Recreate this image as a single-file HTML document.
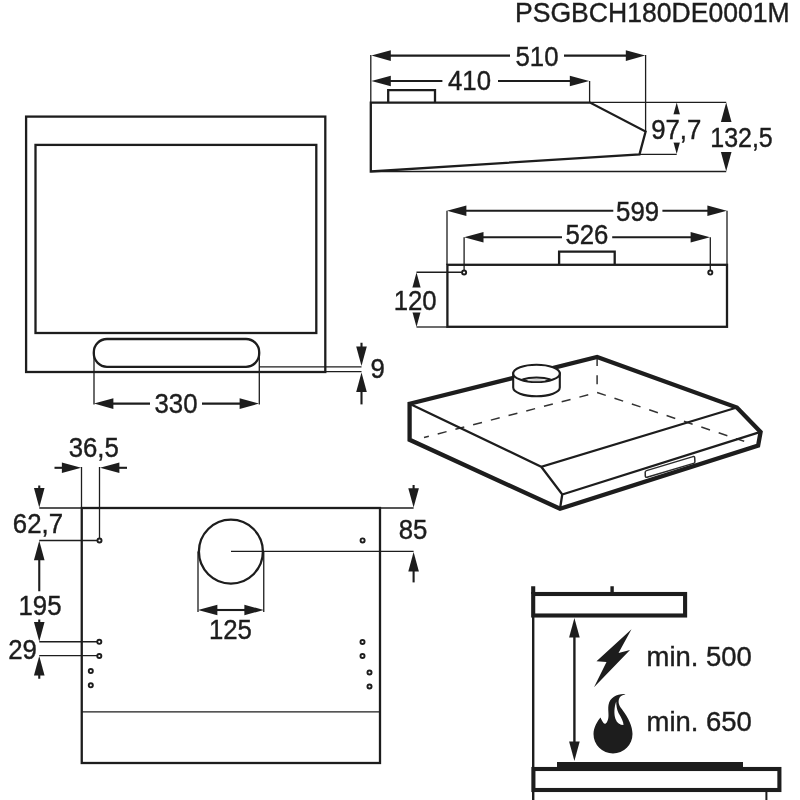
<!DOCTYPE html>
<html><head><meta charset="utf-8"><title>PSGBCH180DE0001M</title>
<style>
html,body{margin:0;padding:0;background:#fff}
svg{display:block;will-change:transform;filter:grayscale(1)}
svg *{fill:none;stroke:#1d1d1b}
svg text{fill:#1d1d1b;stroke:#1d1d1b;stroke-width:0.4px;font-family:"Liberation Sans",Arial,Helvetica,sans-serif;font-size:26.3px}
svg .f{fill:#1d1d1b;stroke:none}
svg .w{fill:#fff;stroke:none}
svg .wf{fill:#fff}
</style></head><body>
<svg width="800" height="800" viewBox="0 0 800 800">
<rect class="w" x="0" y="0" width="800" height="800"/>
<text transform="translate(515,21.70) scale(1.0104,1.02)" text-anchor="start">PSGBCH180DE0001M</text>
<rect x="26.1" y="116.6" width="299.2" height="255.4" stroke-width="2.3"/>
<rect x="35.5" y="144.9" width="280.8" height="188.1" stroke-width="2.3"/>
<rect x="93.8" y="339.0" width="165.39999999999998" height="27.80000000000001" rx="13.2" ry="13.2" stroke-width="2.3"/>
<line x1="94" y1="352" x2="94" y2="404.5" stroke-width="1.3" />
<line x1="259.3" y1="352" x2="259.3" y2="404.5" stroke-width="1.3" />
<polygon class="f" points="94.00,403.60 113.40,398.30 113.40,408.90"/>
<line x1="112" y1="403.6" x2="150" y2="403.6" stroke-width="2.1" />
<polygon class="f" points="259.00,403.60 239.60,398.30 239.60,408.90"/>
<line x1="202" y1="403.6" x2="241" y2="403.6" stroke-width="2.1" />
<text transform="translate(176,413.20) scale(0.9800,1.085)" text-anchor="middle">330</text>
<line x1="259" y1="366.9" x2="361.5" y2="366.9" stroke-width="1.3" />
<line x1="325" y1="371.7" x2="361.5" y2="371.7" stroke-width="1.3" />
<line x1="361.5" y1="342.75" x2="361.5" y2="347" stroke-width="2.1" />
<polygon class="f" points="361.50,366.00 356.20,346.60 366.80,346.60"/>
<polygon class="f" points="361.50,372.50 356.20,391.90 366.80,391.90"/>
<line x1="361.5" y1="391" x2="361.5" y2="404.4" stroke-width="2.1" />
<text transform="translate(370.5,377.70) scale(0.9800,1.085)" text-anchor="start">9</text>
<polygon points="370.8,102.6 590,102.6 645.6,131.6 639.5,154.3 370.8,171.5" stroke-width="2.3"/>
<polyline points="388.2,102.6 388.2,90.2 435,90.2 435,102.6" stroke-width="2.3"/>
<line x1="370.8" y1="55" x2="370.8" y2="102.6" stroke-width="1.3" />
<line x1="589.6" y1="81" x2="589.6" y2="102.6" stroke-width="1.3" />
<line x1="645.6" y1="55" x2="645.6" y2="131.6" stroke-width="1.3" />
<line x1="590" y1="102.4" x2="726.2" y2="102.4" stroke-width="1.3" />
<line x1="639.5" y1="154.3" x2="676.7" y2="154.3" stroke-width="1.3" />
<line x1="370.8" y1="171.5" x2="726.2" y2="171.5" stroke-width="1.3" />
<polygon class="f" points="371.40,55.60 390.80,50.30 390.80,60.90"/>
<line x1="390" y1="55.6" x2="510" y2="55.6" stroke-width="2.1" />
<line x1="564" y1="55.6" x2="626" y2="55.6" stroke-width="2.1" />
<polygon class="f" points="645.20,55.60 625.80,50.30 625.80,60.90"/>
<polygon class="f" points="371.40,81.00 390.80,75.70 390.80,86.30"/>
<line x1="390" y1="81.0" x2="442.4" y2="81.0" stroke-width="2.1" />
<line x1="498" y1="81.0" x2="571" y2="81.0" stroke-width="2.1" />
<polygon class="f" points="589.20,81.00 569.80,75.70 569.80,86.30"/>
<text transform="translate(537,66.20) scale(0.9800,1.085)" text-anchor="middle">510</text>
<text transform="translate(469.5,89.70) scale(0.9800,1.085)" text-anchor="middle">410</text>
<polygon class="f" points="676.70,102.60 671.40,122.00 682.00,122.00"/>
<polygon class="f" points="676.70,154.10 671.40,134.70 682.00,134.70"/>
<polygon class="f" points="726.20,102.60 720.90,122.00 731.50,122.00"/>
<polygon class="f" points="726.20,171.30 720.90,151.90 731.50,151.90"/>
<rect class="w" x="650" y="114.3" width="53" height="28.299999999999997"/>
<rect class="w" x="709" y="123.5" width="66" height="27.5"/>
<text transform="translate(676.2,138.95) scale(0.9800,1.085)" text-anchor="middle">97,7</text>
<text transform="translate(741.5,146.80) scale(0.9506,1.085)" text-anchor="middle">132,5</text>
<rect x="447.4" y="264.8" width="279.6" height="62.0" stroke-width="2.3"/>
<polyline points="559.1,264.8 559.1,251.7 614.7,251.7 614.7,264.8" stroke-width="2.3"/>
<line x1="447" y1="210.7" x2="447" y2="265" stroke-width="1.3" />
<line x1="727" y1="210.7" x2="727" y2="265" stroke-width="1.3" />
<line x1="464.1" y1="237.25" x2="464.1" y2="270.2" stroke-width="1.3" />
<line x1="710.3" y1="237.25" x2="710.3" y2="270.2" stroke-width="1.3" />
<circle cx="464.1" cy="272.5" r="2.05" stroke-width="1.9"/>
<circle cx="710.3" cy="272.6" r="2.05" stroke-width="1.9"/>
<polygon class="f" points="447.00,210.80 466.40,205.50 466.40,216.10"/>
<line x1="465" y1="210.8" x2="613.3" y2="210.8" stroke-width="2.1" />
<line x1="662.4" y1="210.8" x2="708" y2="210.8" stroke-width="2.1" />
<polygon class="f" points="726.80,210.80 707.40,205.50 707.40,216.10"/>
<polygon class="f" points="464.10,237.25 483.50,231.95 483.50,242.55"/>
<line x1="482" y1="237.25" x2="562" y2="237.25" stroke-width="2.1" />
<line x1="612.2" y1="237.25" x2="691" y2="237.25" stroke-width="2.1" />
<polygon class="f" points="710.00,237.25 690.60,231.95 690.60,242.55"/>
<text transform="translate(637.6,220.60) scale(0.9800,1.085)" text-anchor="middle">599</text>
<text transform="translate(586.9,244.40) scale(0.9800,1.085)" text-anchor="middle">526</text>
<line x1="416.5" y1="272.25" x2="461.8" y2="272.25" stroke-width="1.3" />
<line x1="416.5" y1="327" x2="447.3" y2="327" stroke-width="1.3" />
<polygon class="f" points="416.50,272.50 411.20,291.90 421.80,291.90"/>
<polygon class="f" points="416.50,327.00 411.20,307.60 421.80,307.60"/>
<rect class="w" x="393" y="287.5" width="46" height="25.0"/>
<text transform="translate(415.2,309.60) scale(0.9800,1.085)" text-anchor="middle">120</text>
<path d="M597.1,356.9 L597.1,392.5" stroke-width="1.5" stroke-dasharray="9.15 9.15" style="stroke:#333"/>
<path d="M597.1,392.5 L424,437.5" stroke-width="1.5" stroke-dasharray="9.15 9.15" stroke-dashoffset="9.15" style="stroke:#333"/>
<path d="M597.1,392.5 L744.2,441.3" stroke-width="1.5" stroke-dasharray="9.15 9.15" style="stroke:#333"/>
<polygon points="409.6,403.75 597.1,356.9 736.9,407.5 760.6,431.9 758.1,445.6 560,508.75 409.6,439.75" stroke-width="4.3" stroke-linejoin="miter"/>
<path d="M409.6,403.75 L541.25,466.75 L736.9,407.5 M541.25,466.75 L562.25,494.5 L760.6,431.9 M562.25,494.5 L560,508.75" stroke-width="2.3"/>
<path class="wf" d="M513.2,373.4 L513.2,387.6 A23.3,8.6 0 0 0 559.8,387.6 L559.8,373.4 Z" stroke-width="2.1"/>
<ellipse class="wf" cx="536.5" cy="373.4" rx="23.3" ry="8.6" stroke-width="2.1"/>
<path d="M522.5,379.4 A19,5.8 0 0 1 550.5,379.4" stroke-width="2.1"/>
<ellipse cx="536.5" cy="380.2" rx="9" ry="1.1" style="fill:#ccc;stroke:none"/>
<path d="M646.5,470.6 L693,456.6 Q694.6,456.2 694.7,457.8 L694.9,461.6 Q695,463 693.5,463.4 L647,477.2 Q645.4,477.6 645.3,476 L645.2,472.3 Q645.2,471 646.5,470.6 Z" stroke-width="1.5" style="stroke:#2c2c2c"/>
<rect x="81.75" y="508" width="298.25" height="255" stroke-width="2.3"/>
<line x1="81.75" y1="711.9" x2="380" y2="711.9" stroke-width="1.4" />
<circle cx="230.9" cy="551.6" r="32" stroke-width="2.3"/>
<circle cx="99.5" cy="540.5" r="2.05" stroke-width="1.9"/>
<circle cx="362.6" cy="540.4" r="2.05" stroke-width="1.9"/>
<circle cx="99.3" cy="641.8" r="2.05" stroke-width="1.9"/>
<circle cx="99.3" cy="656" r="2.05" stroke-width="1.9"/>
<circle cx="90.8" cy="671.1" r="2.05" stroke-width="1.9"/>
<circle cx="90.8" cy="685.3" r="2.05" stroke-width="1.9"/>
<circle cx="362.5" cy="642" r="2.05" stroke-width="1.9"/>
<circle cx="362.5" cy="656" r="2.05" stroke-width="1.9"/>
<circle cx="369.5" cy="672.5" r="2.05" stroke-width="1.9"/>
<circle cx="369.5" cy="686.5" r="2.05" stroke-width="1.9"/>
<line x1="81.5" y1="467" x2="81.5" y2="508" stroke-width="1.3" />
<line x1="99.5" y1="467" x2="99.5" y2="538" stroke-width="1.3" />
<line x1="54.5" y1="467.8" x2="62" y2="467.8" stroke-width="2.1" />
<polygon class="f" points="81.25,467.80 61.85,462.50 61.85,473.10"/>
<polygon class="f" points="100.00,467.80 119.40,462.50 119.40,473.10"/>
<line x1="119" y1="467.8" x2="127" y2="467.8" stroke-width="2.1" />
<text transform="translate(93.7,456.80) scale(0.9800,1.085)" text-anchor="middle">36,5</text>
<line x1="39.25" y1="508" x2="81.75" y2="508" stroke-width="1.3" />
<line x1="39.25" y1="540.5" x2="97" y2="540.5" stroke-width="1.3" />
<line x1="39.25" y1="485.5" x2="39.25" y2="489" stroke-width="2.1" />
<polygon class="f" points="39.25,507.50 33.95,488.10 44.55,488.10"/>
<polygon class="f" points="39.25,540.80 33.95,560.20 44.55,560.20"/>
<line x1="39.25" y1="560" x2="39.25" y2="591.25" stroke-width="2.1" />
<text transform="translate(37.9,532.70) scale(0.9800,1.085)" text-anchor="middle">62,7</text>
<text transform="translate(40,614.95) scale(0.9800,1.085)" text-anchor="middle">195</text>
<line x1="39.25" y1="619.5" x2="39.25" y2="622.5" stroke-width="2.1" />
<polygon class="f" points="39.25,641.40 33.95,622.00 44.55,622.00"/>
<line x1="39.25" y1="641.75" x2="97" y2="641.75" stroke-width="1.3" />
<line x1="39.25" y1="655.6" x2="97" y2="655.6" stroke-width="1.3" />
<polygon class="f" points="39.25,656.00 33.95,675.40 44.55,675.40"/>
<line x1="39.25" y1="675" x2="39.25" y2="678.75" stroke-width="2.1" />
<text transform="translate(22.5,658.95) scale(0.9800,1.085)" text-anchor="middle">29</text>
<line x1="198" y1="551.5" x2="198" y2="612" stroke-width="1.3" />
<line x1="263.75" y1="551.5" x2="263.75" y2="612" stroke-width="1.3" />
<polygon class="f" points="198.00,610.00 217.40,604.70 217.40,615.30"/>
<polygon class="f" points="263.75,610.00 244.35,604.70 244.35,615.30"/>
<line x1="216" y1="610" x2="246" y2="610" stroke-width="2.1" />
<text transform="translate(230.4,638.70) scale(0.9800,1.085)" text-anchor="middle">125</text>
<line x1="380" y1="508" x2="413.6" y2="508" stroke-width="1.3" />
<line x1="231" y1="551.4" x2="413.6" y2="551.4" stroke-width="1.3" />
<line x1="413.6" y1="485" x2="413.6" y2="489.5" stroke-width="2.1" />
<polygon class="f" points="413.60,507.60 408.30,488.20 418.90,488.20"/>
<polygon class="f" points="413.60,552.00 408.30,571.40 418.90,571.40"/>
<line x1="413.6" y1="570" x2="413.6" y2="582.4" stroke-width="2.1" />
<text transform="translate(413,539.20) scale(0.9800,1.085)" text-anchor="middle">85</text>
<rect x="533.2" y="594" width="151.89999999999998" height="21.5" stroke-width="4.1"/>
<line x1="533.2" y1="586.25" x2="533.2" y2="594" stroke-width="4.1" />
<line x1="612.1" y1="586.25" x2="612.1" y2="594" stroke-width="3.4" />
<line x1="533.2" y1="617" x2="533.2" y2="800" stroke-width="2.4" />
<polygon class="f" points="574.40,618.00 569.10,637.40 579.70,637.40"/>
<polygon class="f" points="574.40,761.00 569.10,741.60 579.70,741.60"/>
<line x1="574.4" y1="635" x2="574.4" y2="743" stroke-width="2.4" />
<rect x="533.4" y="769" width="246.0" height="21" stroke-width="4.1"/>
<rect class="f" x="557" y="762" width="186" height="6"/>
<line x1="766.4" y1="792" x2="766.4" y2="800" stroke-width="2.0" />
<polygon class="f" points="631.5,629.2 596.5,661.2 606.5,662 594,687.2 630,650 618.5,653"/>
<path class="f" fill-rule="evenodd" d="M625.5,694.2 C618,693.5 610,697 608.5,705 C607.5,711 610,717 607,722 C606,724 604.5,724.3 603.5,723 C602,721 601.5,719.5 600.5,717.5 C598,720.5 593.5,727 593.5,734 A19.5,19.5 0 0 0 632.5,734 C632.5,726.5 628.8,718.5 621.8,709 C618.5,705 617.5,701 620,697 C621.5,695.5 623.5,694.6 625.5,694.2 Z M616.2,701.5 C614.2,707 613.8,714 615.5,719 C617,723 620,725 623.5,725 C623.5,722 621.5,718 618.5,713 C616.8,709.5 616.2,705 616.2,701.5 Z"/>
<text transform="translate(646.5,665.90) scale(1.0447,1.085)" text-anchor="start">min. 500</text>
<text transform="translate(646.5,730.90) scale(1.0447,1.085)" text-anchor="start">min. 650</text>
</svg>
</body></html>
